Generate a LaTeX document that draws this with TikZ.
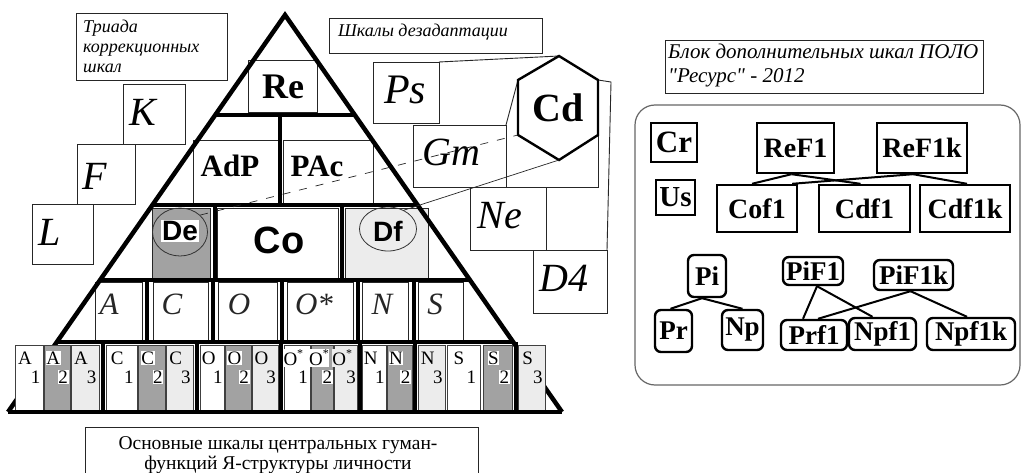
\documentclass[tikz,border=0pt]{standalone}
\usepackage{fontspec}
\setmainfont{Liberation Serif}
\newfontfamily\rawserif{Liberation Serif}[Ligatures=TeXOff]
\newfontfamily\arialfam{Liberation Sans}
\usetikzlibrary{shapes.geometric}
\newcommand\fs[1]{\fontsize{#1}{#1}\selectfont}
\newcommand\ostar{O\raisebox{0.9ex}{\fs{12}*}}
\definecolor{midgray}{HTML}{A2A2A2}
\definecolor{palegray}{HTML}{ECECEC}

\begin{document}
\begin{tikzpicture}[x=1pt,y=-1pt,
  frame/.style={draw=black!85,line width=0.9pt},
  panel/.style={frame,fill=white},
  heavy/.style={line width=4.5pt},
  bigit/.style={font=\fs{40}\itshape,inner sep=0pt},
  capt/.style={font=\fs{18}\itshape,inner sep=0pt,anchor=base west},
  tile/.style={draw=black!75,line width=0.8pt},
  midlet/.style={font=\fs{31}\itshape,text=black!85,inner sep=0pt},
  sub/.style={font=\fs{19},inner sep=0.6pt},
  ovl/.style={ellipse,draw=black!80,line width=0.8pt,inner sep=0pt},
  blk/.style={draw,line width=2.4pt,font=\fs{28}\bfseries,inner sep=0pt},
  rblk/.style={blk,rounded corners=6pt,font=\fs{27}\bfseries},
  link/.style={line width=2pt},
  thinlink/.style={draw=black!85,line width=0.7pt},
]
\useasboundingbox (0,0) rectangle (1024,473);
\fill[white] (0,0) rectangle (1024,473);
\clip (0,0) rectangle (1024,473);

% ---------- caption boxes ----------
\draw[frame] (76,13) rectangle (227,80);
\node[capt] (tri1) at (83,33) {Триада};
\node[capt] (tri2) at (83,53) {коррекционных};
\node[capt] (tri3) at (83,73) {шкал};

\draw[frame] (329,18) rectangle (542,53);
\node[capt] (dez) at (338,37) {Шкалы дезадаптации};

% ---------- correction scales ----------
\draw[frame] (123,84) rectangle (185,144);
\node[bigit] (K) at (143,112) {K};
\draw[frame] (77,144) rectangle (135,204);
\node[bigit] (F) at (95,176) {F};
\draw[frame] (32,204) rectangle (93,264);
\node[bigit] (L) at (50,232) {L};

% ---------- disadaptation scales ----------
\draw[frame] (373,62) rectangle (439,123);
\node[bigit,font=\fs{42}\itshape] (Ps) at (405,90) {Ps};
\draw[frame] (413,125) rectangle (506,187);
\node[bigit] (Gm) at (451,152) {Gm};
\draw[frame] (470,187) rectangle (546,250);
\node[bigit] (Ne) at (500,216) {Ne};
\draw[frame] (533,250) rectangle (607,313);
\node[bigit] (D4) at (564,278) {D4};

\coordinate (hT)  at (559,56);
\coordinate (hUR) at (598,80);
\coordinate (hLR) at (598,135);
\coordinate (hB)  at (559,160);
\coordinate (hLL) at (518,135);
\coordinate (hUL) at (518,80);
\draw[frame] (439,62) -- (hT);
\draw[frame] (hUR) -- (611,82) -- (607,250);
\draw[frame] (hLR) -- (598,187) -- (546,187);
\draw[frame] (506,125) -- (hUL);
\draw[line width=2.4pt,fill=white] (hT) -- (hUR) -- (hLR) -- (hB) -- (hLL) -- (hUL) -- cycle;
\node[font=\fs{40}\bfseries,inner sep=0pt] (Cd) at (558,108) {Cd};

% ---------- pyramid: upper tiers ----------
\draw[panel] (248,60) rectangle (317,112);
\node[font=\fs{36}\bfseries,inner sep=0pt] (Re) at (283,87) {Re};
\draw[panel] (193,140) rectangle (278,204);
\node[font=\fs{31}\bfseries,inner sep=0pt] (AdP) at (230,166) {AdP};
\draw[panel] (283,140) rectangle (373,203);
\node[font=\fs{31}\bfseries,inner sep=0pt] (PAc) at (317,166) {PAc};

% central tier
\draw[frame,fill=midgray] (152,208) rectangle (210,278);
\draw[panel] (217,208) rectangle (338,279);
\draw[frame,fill=palegray] (345,208) rectangle (428,278);
\node[font=\arialfam\bfseries\fs{38},inner sep=0pt] (Co) at (279,240) {Co};
\node[font=\arialfam\bfseries\fs{28},fill=white,inner sep=1pt] (DeT) at (180,231) {De};
\node[ovl,minimum width=55,minimum height=48] (De) at (180,232) {};
\node[font=\arialfam\bfseries\fs{28},inner sep=0pt] (DfT) at (388,231) {Df};
\node[ovl,minimum width=57,minimum height=44] (Df) at (388,229) {};

% third tier
\foreach \a/\b/\t/\c [count=\i] in {95/142/A/109,153/208/C/172,218/277/O/239,287/353/O*/314,362/408/N/382,418/463/S/435}{
  \draw[panel] (\a,282) rectangle (\b,340);
  \node[midlet] (mid\i) at (\c,304) {\t};
}

% pyramid outline and dividers
\coordinate (apex) at (285,15);
\coordinate (bl) at (8,412);
\coordinate (br) at (562,412);
\draw[heavy] (bl) -- (apex) -- (br);
\draw[heavy] (215.2,115) -- (354.8,115);
\draw[heavy] (152.4,205) -- (417.6,205);
\draw[heavy] (100.1,280) -- (469.9,280);
\draw[heavy] (56.9,342) -- (513.1,342);
\draw[heavy] (280,115) -- (280,205);
\foreach \x in {215,342} \draw[heavy] (\x,205) -- (\x,280);
\foreach \x in {147,213,282,358,414} \draw[heavy] (\x,280) -- (\x,342);

% ---------- bottom tier: subscales ----------
\foreach \x/\w/\f/\tf/\L/\d [count=\i] in {
  15/28/white/white/A/1, 44/26/midgray/white/A/2, 71/28/palegray/palegray/A/3,
  106/31/white/white/C/1, 138/27/midgray/white/C/2, 166/27/palegray/palegray/C/3,
  200/24/white/white/O/1, 225/26/midgray/white/O/2, 252/26/palegray/palegray/O/3,
  284/26/white/white/\ostar/1, 311/22/midgray/white/\ostar/2, 334/23/palegray/palegray/\ostar/3,
  362/24/white/white/N/1, 387/25/midgray/white/N/2, 418/27/palegray/palegray/N/3,
  447/33/white/white/S/1, 483/29/midgray/white/S/2, 518/27/palegray/palegray/S/3}{
  \draw[tile,fill=\f] (\x,345) rectangle ++(\w,65);
  \node[sub,fill=\tf] (sl\i) at (\x+0.36*\w,358) {\L};
  \node[sub,fill=\tf] (sn\i) at (\x+0.74*\w,377) {\d};
}
\foreach \x in {103,197,281,360,415,516} \draw[heavy] (\x,342) -- (\x,412);
\draw[heavy] (bl) -- (br);

% links from the central tier to Cd
\draw[thinlink,dash pattern=on 8pt off 9pt] (De.40) -- (hLL);
\draw[thinlink] (Df.50) -- (hB);

% ---------- caption under the pyramid ----------
\draw[frame] (85,427) rectangle (478,495);
\node[font=\fs{19.5},inner sep=0pt,anchor=base] (cap1) at (278,449) {Основные шкалы центральных гуман-};
\node[font=\fs{19.5},inner sep=0pt,anchor=base] (cap2) at (278,469) {функций Я-структуры личности};

% ---------- additional scales block ----------
\draw[frame] (665,40) rectangle (983,93);
\node[capt,font=\fs{21}\itshape] (ad1) at (668,59) {Блок дополнительных шкал ПОЛО};
\node[capt,font=\fs{21}\rawserif\itshape] (ad2) at (668,83) {"Ресурс" - 2012};
\draw[draw=black!60,line width=1.2pt,rounded corners=20pt] (635,105) rectangle (1020,385);

\node[blk,minimum width=46,minimum height=39,font=\fs{31}\bfseries] (Cr) at (674,142.5) {Cr};
\node[blk,minimum width=39,minimum height=35,font=\fs{29}\bfseries] (Us) at (675.5,197.5) {Us};
\node[blk,minimum width=77,minimum height=50] (ReF1) at (795.5,148) {ReF1};
\node[blk,minimum width=90,minimum height=50] (ReF1k) at (922,148) {ReF1k};
\node[blk,minimum width=80,minimum height=47] (Cof1) at (757,208.5) {Cof1};
\node[blk,minimum width=91,minimum height=47] (Cdf1) at (864.5,208.5) {Cdf1};
\node[blk,minimum width=90,minimum height=47] (Cdf1k) at (965,208.5) {Cdf1k};
\draw[link] ([xshift=-4pt]ReF1.south) -- ([xshift=-5pt]Cof1.north);
\draw[link] ([xshift=-4pt]ReF1.south) -- ([xshift=-4pt]Cdf1.north);
\draw[link] ([xshift=-9pt]ReF1k.south) -- ([xshift=-6pt]Cof1.north east);
\draw[link] ([xshift=-9pt]ReF1k.south) -- ([xshift=2pt]Cdf1k.north);

\node[rblk,minimum width=38,minimum height=42] (Pi) at (707,276) {Pi};
\node[rblk,minimum width=37,minimum height=42] (Pr) at (673.5,331) {Pr};
\node[rblk,minimum width=41,minimum height=40] (Np) at (742.5,330) {Np};
\node[rblk,minimum width=60,minimum height=28] (PiF1) at (813,271) {PiF1};
\node[rblk,minimum width=79,minimum height=30] (PiF1k) at (913.5,275) {PiF1k};
\node[rblk,minimum width=66,minimum height=30] (Prf1) at (814,335) {Prf1};
\node[rblk,minimum width=67,minimum height=32] (Npf1) at (882.5,334) {Npf1};
\node[rblk,minimum width=88,minimum height=32] (Npf1k) at (971,334) {Npf1k};
\draw[link] ([xshift=-5pt]Pi.south) -- ([xshift=-3pt]Pr.north);
\draw[link] ([xshift=-5pt]Pi.south) -- (Np.north);
\draw[link] ([xshift=4pt]PiF1.south) -- ([xshift=-11pt]Prf1.north);
\draw[link] ([xshift=4pt]PiF1.south) -- ([xshift=-10pt]Npf1.north);
\draw[link] ([xshift=-3pt]PiF1k.south) -- ([xshift=4pt]Prf1.north);
\draw[link] ([xshift=-3pt]PiF1k.south) -- ([xshift=-4pt]Npf1k.north);
\end{tikzpicture}
\end{document}
